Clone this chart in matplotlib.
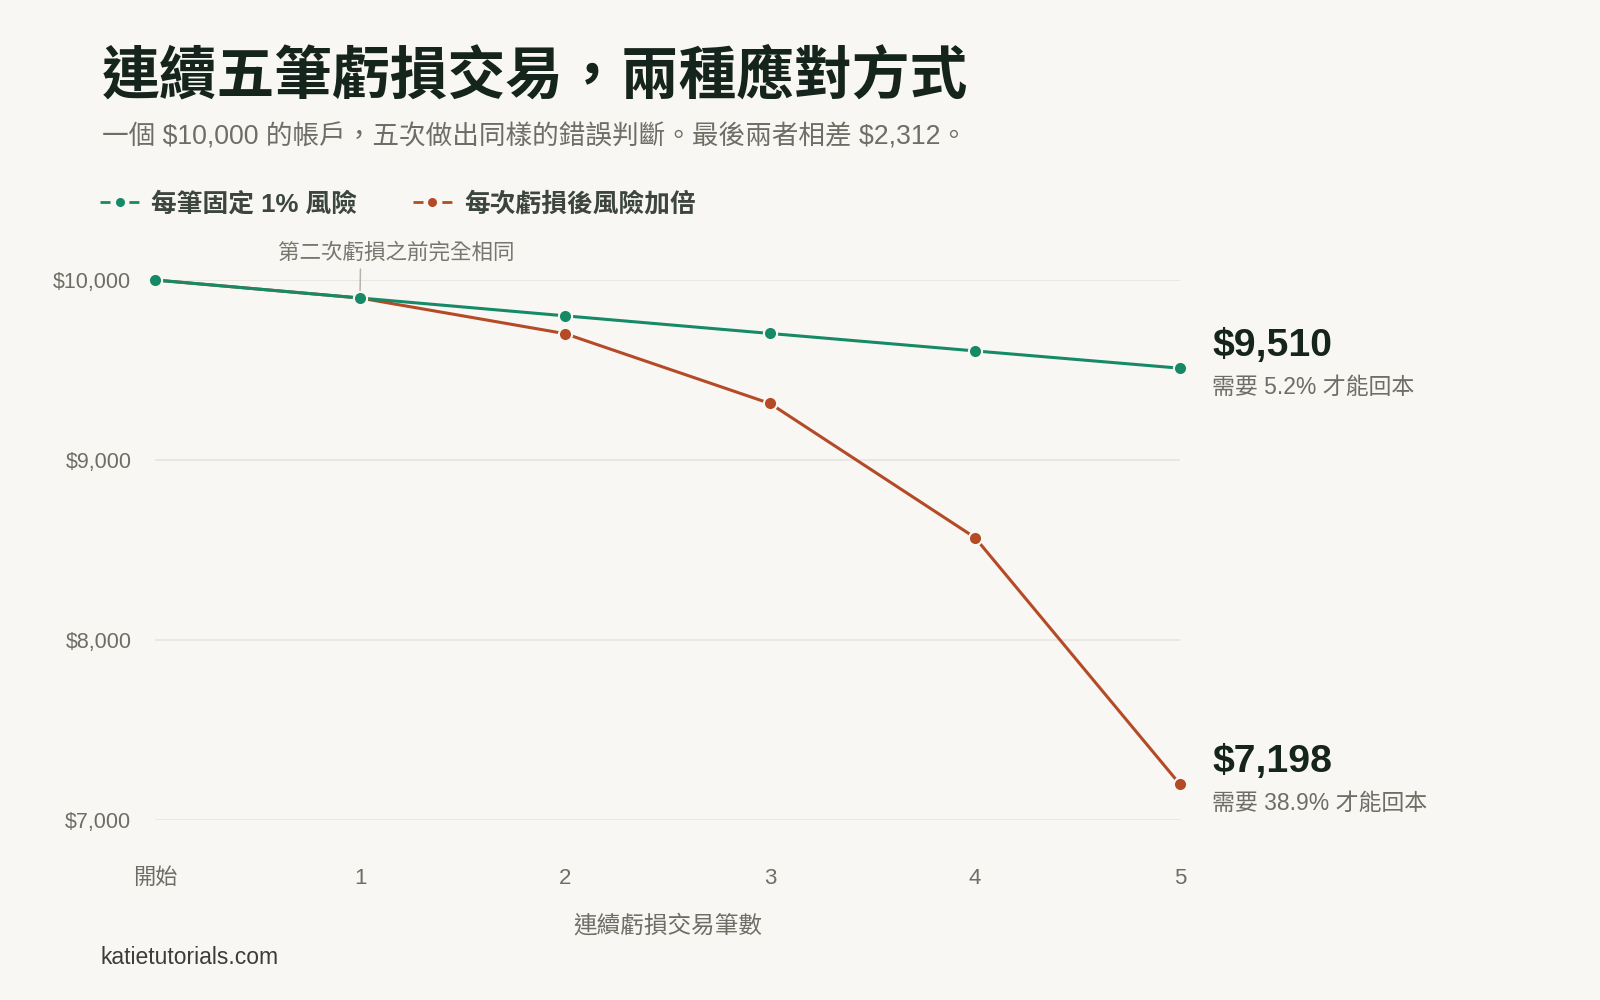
import matplotlib
matplotlib.use('Agg')
import matplotlib.pyplot as plt
from matplotlib.lines import Line2D

plt.rcParams['font.family'] = ['Liberation Sans', 'Noto Sans CJK TC', 'DejaVu Sans']

# 資料
steps = [0, 1, 2, 3, 4, 5]
step_labels = ['開始', '1', '2', '3', '4', '5']
fixed_risk = [10000, 9900, 9801, 9703, 9606, 9510]
double_risk = [10000, 9900, 9702, 9314, 8569, 7198]
y_ticks = [7000, 8000, 9000, 10000]
series_names = ['每筆固定 1% 風險', '每次虧損後風險加倍']

BG = '#f8f7f3'
GREEN = '#168a66'
RUST = '#b44a26'
DARK = '#15241c'
GRAY = '#6e6e66'

fig = plt.figure(figsize=(16, 10), dpi=100, facecolor=BG)
ax = fig.add_axes([155 / 1600, 0.18, 1025 / 1600, 0.54])
ax.set_facecolor(BG)

ax.plot(steps, fixed_risk, color=GREEN, lw=2.2, marker='o', ms=9.5,
        mec=BG, mew=1.5, clip_on=False, zorder=4)
ax.plot(steps, double_risk, color=RUST, lw=2.2, marker='o', ms=9.5,
        mec=BG, mew=1.5, clip_on=False, zorder=3)

ax.set_xlim(0, 5)
ax.set_ylim(7000, 10000)
ax.set_yticks(y_ticks)
ax.set_yticklabels(['$%s' % format(v, ',') for v in y_ticks])
ax.set_xticks(steps)
ax.set_xticklabels(step_labels)
ax.tick_params(axis='y', length=0, pad=17, labelsize=15.5, labelcolor=GRAY)
ax.tick_params(axis='x', length=0, pad=34.5, labelsize=16, labelcolor=GRAY)
ax.grid(axis='y', color='#e6e4de', lw=1.2)
ax.grid(axis='x', visible=False)
for s in ax.spines.values():
    s.set_visible(False)

# 註解
ax.annotate('第二次虧損之前完全相同', xy=(steps[1], fixed_risk[1]),
            xytext=(36, 45), textcoords='offset pixels',
            ha='center', va='center', fontsize=15.5, color='#77776e',
            arrowprops=dict(arrowstyle='-', color='#b5b5ad', lw=1.1,
                            relpos=(0.35, 0), shrinkA=2, shrinkB=5))

# 右側數值標籤
for vals in (fixed_risk, double_risk):
    end = vals[-1]
    need = (vals[0] / end - 1) * 100
    ax.annotate('$%s' % format(end, ','), xy=(steps[-1], end),
                xytext=(32, 22), textcoords='offset pixels',
                ha='left', va='center', fontsize=28.3, fontweight='bold',
                color=DARK, annotation_clip=False)
    ax.annotate('需要 %.1f%% 才能回本' % need, xy=(steps[-1], end),
                xytext=(32, -19), textcoords='offset pixels',
                ha='left', va='center', fontsize=16.5, color=GRAY,
                annotation_clip=False)

# 標題
fig.text(102 / 1600, 1 - 78 / 1000, '連續五筆虧損交易，兩種應對方式',
         fontsize=41.6, fontweight='bold', color=DARK, va='center', ha='left')
gap = fixed_risk[-1] - double_risk[-1]
fig.text(102 / 1600, 1 - 137 / 1000,
         '一個 \\$%s 的帳戶，五次做出同樣的錯誤判斷。最後兩者相差 \\$%s。'
         % (format(fixed_risk[0], ','), format(gap, ',')),
         fontsize=19.2, color=GRAY, va='center', ha='left')

# 圖例
handles = [Line2D([], [], color=c, lw=2, dashes=(3.6, 6.8), marker='o',
                  ms=6.5, mec=BG, mew=0) for c in (GREEN, RUST)]
leg = fig.legend(handles, series_names, loc='center left',
                 bbox_to_anchor=(100 / 1600, 1 - 204 / 1000), ncol=2,
                 frameon=False, borderpad=0, borderaxespad=0,
                 handlelength=1.52, handletextpad=0.48, columnspacing=2.15,
                 prop=dict(size=18.5, weight='bold'))
for t in leg.get_texts():
    t.set_color('#3d4540')

fig.text(668 / 1600, 1 - 926 / 1000, '連續虧損交易筆數', fontsize=17,
         color=GRAY, ha='center', va='center')
fig.text(100 / 1600, 1 - 958 / 1000, 'katietutorials.com', fontsize=16.5,
         color='#3c3c3c', ha='left', va='center')

fig.savefig('out.png', dpi=100, facecolor=BG)
